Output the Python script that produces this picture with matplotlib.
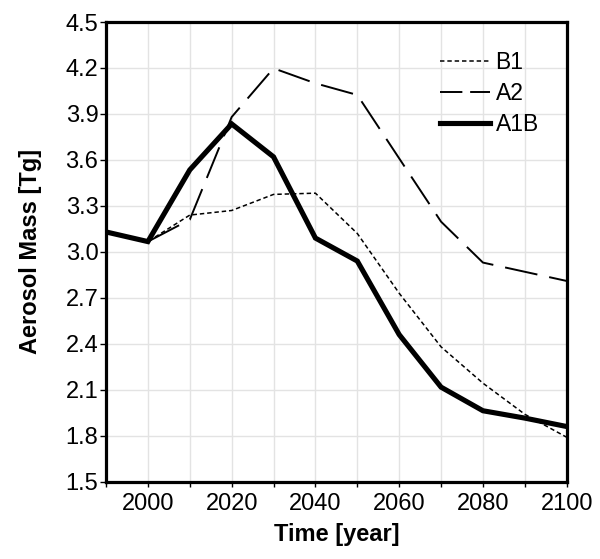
import matplotlib
matplotlib.use("Agg")
import matplotlib.pyplot as plt

plt.rcParams['font.family'] = ['Liberation Sans', 'DejaVu Sans']

years = [1990, 2000, 2010, 2020, 2030, 2040, 2050, 2060, 2070, 2080, 2090, 2100]
b1 = [3.13, 3.067, 3.24, 3.27, 3.375, 3.383, 3.12, 2.73, 2.38, 2.143, 1.94, 1.79]
a2 = [3.13, 3.067, 3.21, 3.88, 4.198, 4.10, 4.024, 3.61, 3.197, 2.93, 2.87, 2.81]
a1b = [3.13, 3.067, 3.535, 3.835, 3.62, 3.09, 2.94, 2.46, 2.117, 1.963, 1.915, 1.86]

xticks = [2000, 2020, 2040, 2060, 2080, 2100]
yticks = [1.5, 1.8, 2.1, 2.4, 2.7, 3.0, 3.3, 3.6, 3.9, 4.2, 4.5]

fig = plt.figure(figsize=(6.0, 5.59), dpi=100)
ax = fig.add_axes([0.1767, 0.1383, 0.7678, 0.8223])

ax.plot(years, b1, color='black', lw=1.1, linestyle=(0, (2.9, 1.9)), label='B1')
ax.plot(years, a2, color='black', lw=1.4, linestyle=(0, (17, 6.2)), label='A2')
ax.plot(years, a1b, color='black', lw=3.7, solid_joinstyle='miter', label='A1B')

ax.set_xlim(1990, 2100)
ax.set_ylim(1.5, 4.5)
ax.set_xticks(xticks)
ax.set_xticks(list(range(1990, 2101, 10)), minor=True)
ax.set_yticks(yticks)
ax.set_yticklabels([f"{v:.1f}" for v in yticks])

ax.grid(True, which='both', color='#e3e3e3', lw=1.0)
ax.set_axisbelow(True)

for s in ax.spines.values():
    s.set_linewidth(2.3)

ax.tick_params(axis='x', which='both', direction='out', length=3.5, width=1.0,
               labelsize=17, pad=4.5)
ax.tick_params(axis='y', which='major', direction='out', length=4, width=1.0,
               labelsize=17, pad=1.5)

ax.set_xlabel('Time [year]', fontsize=17, fontweight='bold', labelpad=6)
ax.set_ylabel('Aerosol Mass [Tg]', fontsize=17, fontweight='bold', labelpad=17)

leg = ax.legend(loc='upper left', bbox_to_anchor=(0.725, 0.937), frameon=False,
                fontsize=16.5, handlelength=2.2, handletextpad=0.22,
                labelspacing=0.36, borderpad=0, borderaxespad=0)
# shorter dashes so the legend sample shows two full dashes
leg.get_lines()[1].set_linestyle((0, (11.5, 4)))

fig.savefig('out.png', dpi=100)
